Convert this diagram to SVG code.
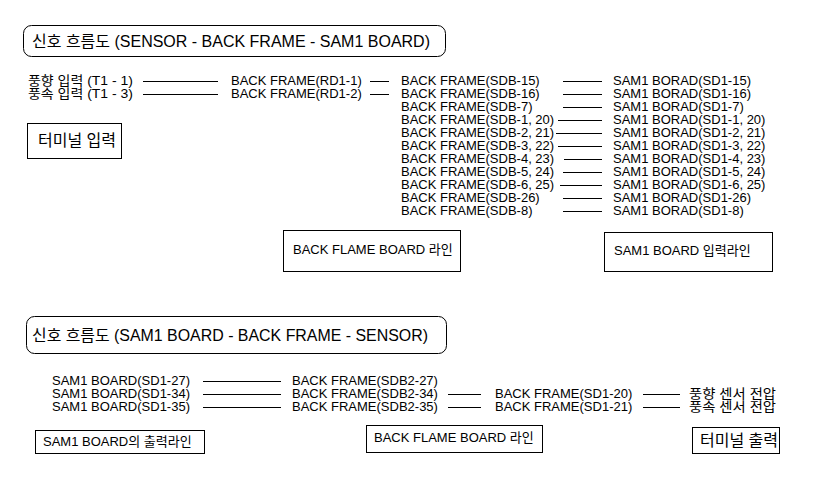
<svg xmlns="http://www.w3.org/2000/svg" width="824" height="486" viewBox="0 0 824 486">
<style>
text{font-family:"Liberation Sans","Noto Sans CJK KR",sans-serif;font-size:13px;fill:#000}
.t{font-size:16px}
.k{font-size:16px}
.box{fill:#fff;stroke:#000;stroke-width:1}
.ln{stroke:#000;stroke-width:1;fill:none}
</style>
<rect width="824" height="486" fill="#fff"/>

<g id="title1"><rect class="box" x="23.5" y="25.5" width="422" height="31" rx="8"/><text class="t" x="32" y="47" textLength="398" lengthAdjust="spacingAndGlyphs">신호 흐름도 (SENSOR - BACK FRAME - SAM1 BOARD)</text></g>

<g id="in1"><text x="28" y="85" textLength="105" lengthAdjust="spacingAndGlyphs">풍향 입력 (T1 - 1)</text></g>
<g id="in2"><text x="28" y="98" textLength="105" lengthAdjust="spacingAndGlyphs">풍속 입력 (T1 - 3)</text></g>
<g id="rd1"><text x="231" y="85">BACK FRAME(RD1-1)</text></g>
<g id="rd2"><text x="231" y="98">BACK FRAME(RD1-2)</text></g>

<g id="sdb15"><text x="401" y="85">BACK FRAME(SDB-15)</text></g>
<g id="sdb16"><text x="401" y="98">BACK FRAME(SDB-16)</text></g>
<g id="sdb7"><text x="401" y="111">BACK FRAME(SDB-7)</text></g>
<g id="sdb1"><text x="401" y="124">BACK FRAME(SDB-1, 20)</text></g>
<g id="sdb2"><text x="401" y="137">BACK FRAME(SDB-2, 21)</text></g>
<g id="sdb3"><text x="401" y="150">BACK FRAME(SDB-3, 22)</text></g>
<g id="sdb4"><text x="401" y="163">BACK FRAME(SDB-4, 23)</text></g>
<g id="sdb5"><text x="401" y="176">BACK FRAME(SDB-5, 24)</text></g>
<g id="sdb6"><text x="401" y="189">BACK FRAME(SDB-6, 25)</text></g>
<g id="sdb26"><text x="401" y="202">BACK FRAME(SDB-26)</text></g>
<g id="sdb8"><text x="401" y="215">BACK FRAME(SDB-8)</text></g>

<g id="sd15"><text x="613" y="85">SAM1 BORAD(SD1-15)</text></g>
<g id="sd16"><text x="613" y="98">SAM1 BORAD(SD1-16)</text></g>
<g id="sd7"><text x="613" y="111">SAM1 BORAD(SD1-7)</text></g>
<g id="sd1"><text x="613" y="124">SAM1 BORAD(SD1-1, 20)</text></g>
<g id="sd2"><text x="613" y="137">SAM1 BORAD(SD1-2, 21)</text></g>
<g id="sd3"><text x="613" y="150">SAM1 BORAD(SD1-3, 22)</text></g>
<g id="sd4"><text x="613" y="163">SAM1 BORAD(SD1-4, 23)</text></g>
<g id="sd5"><text x="613" y="176">SAM1 BORAD(SD1-5, 24)</text></g>
<g id="sd6"><text x="613" y="189">SAM1 BORAD(SD1-6, 25)</text></g>
<g id="sd26"><text x="613" y="202">SAM1 BORAD(SD1-26)</text></g>
<g id="sd8"><text x="613" y="215">SAM1 BORAD(SD1-8)</text></g>

<g id="lbl-terminal-in"><rect class="box" x="27.5" y="123.5" width="94" height="35"/><text class="k" x="38" y="146">터미널 입력</text></g>
<g id="lbl-backflame1"><rect class="box" x="283.5" y="230.5" width="177" height="41"/><text x="293" y="254">BACK FLAME BOARD 라인</text></g>
<g id="lbl-sam1-in"><rect class="box" x="604.5" y="232.5" width="168" height="39"/><text x="614" y="255">SAM1 BOARD 입력라인</text></g>

<g id="title2"><rect class="box" x="26.5" y="316.5" width="420" height="37" rx="8"/><text class="t" x="32" y="341" textLength="396" lengthAdjust="spacingAndGlyphs">신호 흐름도 (SAM1 BOARD - BACK FRAME - SENSOR)</text></g>

<g id="o27"><text x="52" y="385">SAM1 BOARD(SD1-27)</text></g>
<g id="o34"><text x="52" y="398">SAM1 BOARD(SD1-34)</text></g>
<g id="o35"><text x="52" y="411">SAM1 BOARD(SD1-35)</text></g>
<g id="b27"><text x="292" y="385">BACK FRAME(SDB2-27)</text></g>
<g id="b34"><text x="292" y="398">BACK FRAME(SDB2-34)</text></g>
<g id="b35"><text x="292" y="411">BACK FRAME(SDB2-35)</text></g>
<g id="c20"><text x="495" y="398">BACK FRAME(SD1-20)</text></g>
<g id="c21"><text x="495" y="411">BACK FRAME(SD1-21)</text></g>
<g id="v1"><text x="689" y="398" textLength="87" lengthAdjust="spacingAndGlyphs">풍향 센서 전압</text></g>
<g id="v2"><text x="689" y="411" textLength="87" lengthAdjust="spacingAndGlyphs">풍속 센서 전압</text></g>

<g id="lbl-sam1-out"><rect class="box" x="35.5" y="430.5" width="169" height="23"/><text x="43" y="446">SAM1 BOARD의 출력라인</text></g>
<g id="lbl-backflame2"><rect class="box" x="366.5" y="425.5" width="176" height="27"/><text x="374" y="442">BACK FLAME BOARD 라인</text></g>
<g id="lbl-terminal-out"><rect class="box" x="692.5" y="427.5" width="87" height="26"/><text class="k" x="700" y="446">터미널 출력</text></g>

<g id="connectors" class="ln">
<path d="M143 81.5H218M143 94.5H218"/>
<path d="M370 81.5H389M370 94.5H389"/>
<path d="M563 81.5H602M563 94.5H602M563 107.5H602M558 120.5H602M556 133.5H602M558 146.5H602M564 159.5H602M563 172.5H602M560 185.5H602M563 198.5H602M563 211.5H602"/>
<path d="M203 381.5H281M203 394.5H281M203 407.5H281"/>
<path d="M448 394.5H481M448 407.5H481"/>
<path d="M643 394.5H680M643 407.5H680"/>
</g>
</svg>
